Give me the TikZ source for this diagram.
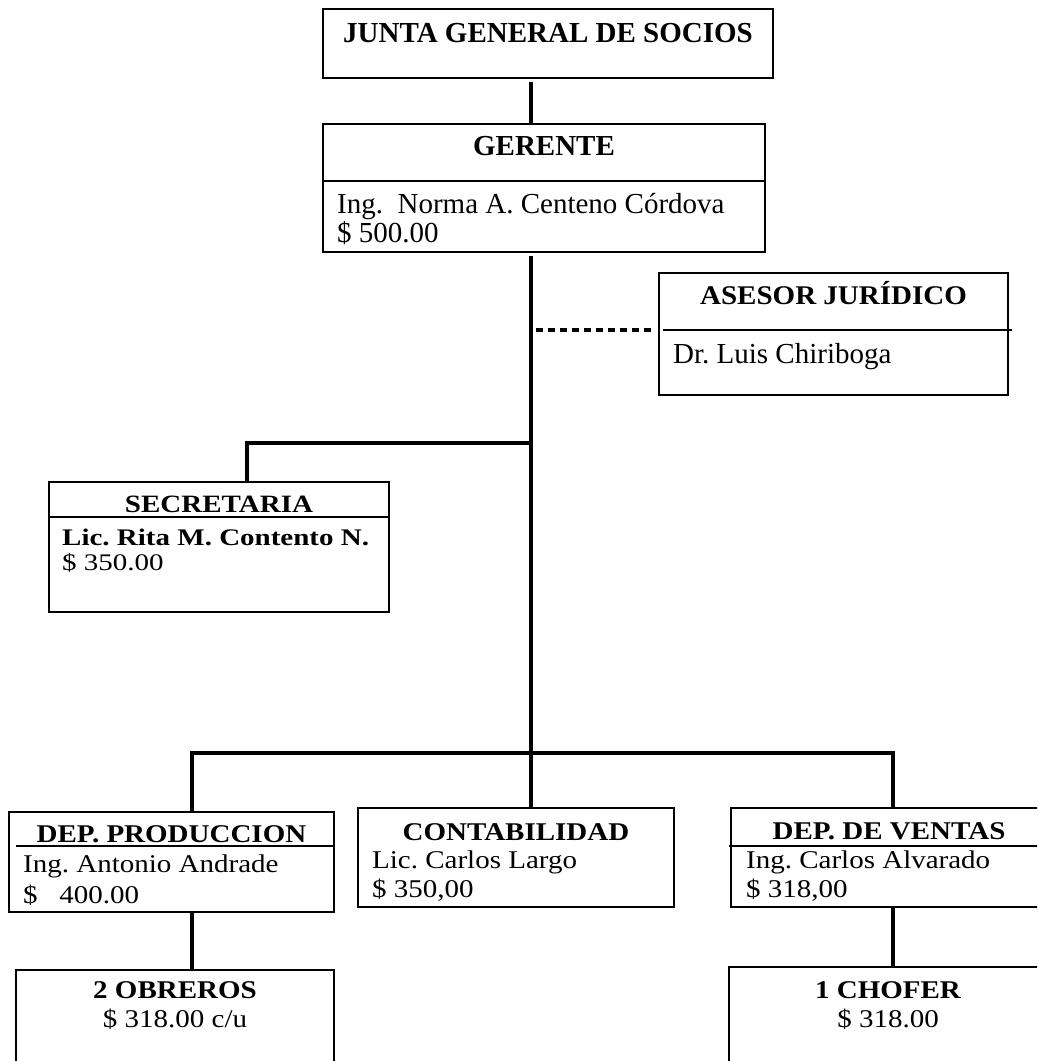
\documentclass[tikz,border=0pt]{standalone}
\usepackage{graphicx}
\usepackage{fontspec}
\setmainfont{Liberation Serif}
% text in the lower boxes is set slightly flattened
\newcommand\lowtext[2][0.88]{\scalebox{1}[#1]{#2}}
\begin{document}
\frenchspacing
\begin{tikzpicture}[x=1pt,y=-1pt]
\tikzset{
  box/.style={draw, line width=1.2pt, rectangle, inner sep=0pt, outer sep=0pt, anchor=north west},
  link/.style={line width=4.7pt},
  advice/.style={line width=4.5pt, dash pattern=on 7pt off 5pt},
  rulebar/.style={line width=1.2pt},
  head/.style={font=\fontsize{29}{34}\selectfont\bfseries, inner sep=0pt, anchor=base},
  body/.style={font=\fontsize{29}{34}\selectfont, inner sep=0pt, anchor=base west},
  bodyc/.style={font=\fontsize{29}{34}\selectfont, inner sep=0pt, anchor=base},
}
\useasboundingbox (0,0) rectangle (1037,1061);
\clip (0,0) rectangle (1037,1061);
\fill[white] (0,0) rectangle (1037,1061);

% boxes
\node[box, minimum width=450pt, minimum height=69pt]  (junta)   at (323,9)   {};
\node[box, minimum width=442pt, minimum height=128pt] (gerente) at (323,124) {};
\node[box, minimum width=349pt, minimum height=122pt] (asesor)  at (659,273) {};
\node[box, minimum width=340pt, minimum height=130pt] (secre)   at (49,482)  {};
\node[box, minimum width=325pt, minimum height=100pt] (prod)    at (9,812)   {};
\node[box, minimum width=316pt, minimum height=99pt]  (conta)   at (358,808) {};
\node[box, minimum width=320pt, minimum height=99pt]  (ventas)  at (731,808) {};
\node[box, minimum width=318pt, minimum height=110pt] (obreros) at (16,970)  {};
\node[box, minimum width=320pt, minimum height=110pt] (chofer)  at (729,967) {};

% dividers inside the boxes
\draw[rulebar] (323,181) -- (765,181);
\draw[rulebar] (663,330) -- (1012,330);
\draw[rulebar] (49,517) -- (389,517);
\draw[rulebar] (16,846) -- (334,846);
\draw[rulebar] (729,846) -- (1051,846);

% connectors
\coordinate (trunk) at (531,0);
\coordinate (advy) at (0,330);
\coordinate (secy) at (0,443);
\coordinate (secx) at (247,0);
\coordinate (bary) at (0,753);
\coordinate (prodx) at (192,0);
\coordinate (ventx) at (893,0);

\draw[link] ([yshift=-4pt]junta.south -| trunk) -- (gerente.north -| trunk);
\draw[link] ([yshift=-4pt]gerente.south -| trunk) -- (conta.north -| trunk);
\draw[advice] ([xshift=5pt]trunk |- advy) -- ([xshift=-6pt]asesor.west |- advy);
\draw[link] (trunk |- secy) -- (secx |- secy) -- (secx |- secre.north);
\draw[link] (prodx |- prod.north) -- (prodx |- bary) -- (ventx |- bary) -- (ventx |- ventas.north);
\draw[link] (prodx |- prod.south) -- (prodx |- obreros.north);
\draw[link] (ventx |- ventas.south) -- (ventx |- chofer.north);

% texts
\node[head] (tjunta) at (548,42) {JUNTA GENERAL DE SOCIOS};
\node[head] (tger) at (544,155) {GERENTE};
\node[body] (tgern) at (337,213) {Ing.\ \ Norma A. Centeno Córdova};
\node[body] (tgers) at (337,242) {\$ 500.00};
\node[head] (tases) at (833.5,304) {\lowtext[0.93]{ASESOR JURÍDICO}};
\node[body] (tasesn) at (673,363) {Dr. Luis Chiriboga};
\node[head] (tsec) at (219,512) {\lowtext[0.86]{SECRETARIA}};
\node[body, font=\fontsize{29}{34}\selectfont\bfseries] (tsecn) at (62,545) {\lowtext[0.82]{Lic. Rita M. Contento N.}};
\node[body] (tsecs) at (62,570) {\lowtext[0.82]{\$ 350.00}};
\node[head] (tprod) at (171.5,842) {\lowtext{DEP. PRODUCCION}};
\node[body] (tprodn) at (23,872) {\lowtext{Ing. Antonio Andrade}};
\node[body] (tprods) at (23,903) {\lowtext{\$\ \ \ 400.00}};
\node[head] (tconta) at (516,840) {\lowtext{CONTABILIDAD}};
\node[body] (tcontan) at (372,868) {\lowtext{Lic. Carlos Largo}};
\node[body] (tcontas) at (372,897) {\lowtext{\$ 350,00}};
\node[head] (tvent) at (889,839) {\lowtext{DEP. DE VENTAS}};
\node[body] (tventn) at (746,868) {\lowtext{Ing. Carlos Alvarado}};
\node[body] (tvents) at (746,897) {\lowtext{\$ 318,00}};
\node[head] (tobr) at (175,998) {\lowtext{2 OBREROS}};
\node[bodyc] (tobrs) at (175,1027) {\lowtext{\$ 318.00 c/u}};
\node[head] (tcho) at (888,998) {\lowtext{1 CHOFER}};
\node[bodyc] (tchos) at (888,1027) {\lowtext{\$ 318.00}};
\end{tikzpicture}
\end{document}
